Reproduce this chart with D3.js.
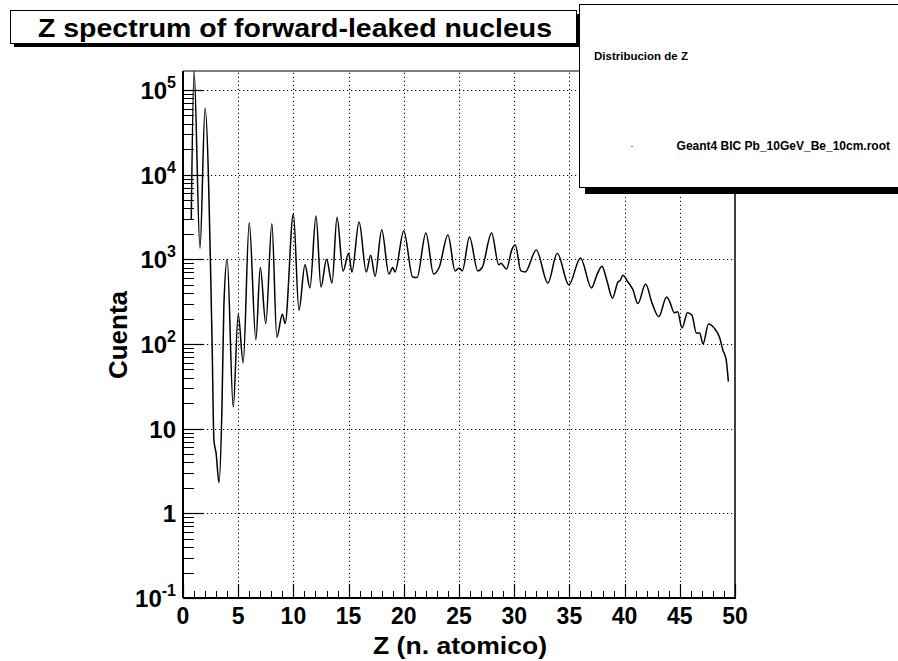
<!DOCTYPE html>
<html>
<head>
<meta charset="utf-8">
<script src="https://cdn.jsdelivr.net/npm/d3@7"></script>
<style>
  html, body { margin: 0; padding: 0; background: #fff; }
  svg { display: block; }
  text { font-family: "Liberation Sans", Arial, sans-serif; font-weight: bold; fill: #000; }
</style>
</head>
<body>
<script>
// ---- data ----
const zValues = [0.75, 1.0, 1.54, 2.0, 2.63, 2.8, 3.0, 3.26, 3.53, 3.7, 4.0, 4.55, 5.0, 5.45, 6.0, 6.6, 7.0, 7.5, 8.05, 8.5, 9.0, 9.25,
  10.0, 10.5, 11.05, 11.5, 12.05, 12.5, 13.0, 13.5, 13.95, 14.5, 15.0, 15.3, 15.95, 16.6, 17.0, 17.4, 18.0, 18.65, 19.0, 19.2,
  20.0, 20.8, 21.2, 22.0, 22.7, 23.2, 24.0, 24.65, 25.0, 25.3, 25.95, 26.7, 27.1, 27.95, 28.6, 28.8, 29.3, 29.8, 30.1, 30.6, 31.0,
  32.0, 33.05, 33.9, 34.95, 36.0, 37.0, 37.5, 37.95, 38.4, 38.9, 39.4, 39.6, 39.85, 40.3, 40.75, 41.2, 41.9, 42.5, 43.1, 43.8,
  44.1, 44.5, 44.8, 45.2, 45.7, 46.1, 46.5, 46.8, 47.1, 47.6, 48.1, 48.6, 48.9, 49.2, 49.4];
const counts = [3000, 168000, 1350, 61000, 112, 7.4, 5.1, 2.3, 18, 275, 1000, 18, 225, 60, 2700, 112, 800, 174, 2630, 120, 225, 175,
  3450, 250, 860, 460, 3250, 470, 1000, 525, 3150, 725, 1180, 710, 2760, 710, 1120, 630, 2240, 670, 800, 710,
  2160, 620, 610, 2050, 670, 800, 1940, 730, 790, 730, 1830, 730, 800, 2050, 860, 900, 770, 1320, 1480, 730, 710,
  1290, 525, 1180, 500, 1040, 460, 660, 830, 560, 348, 540, 560, 650, 540, 440, 300, 510, 300, 210, 360,
  313, 234, 240, 155, 234, 218, 135, 135, 100, 172, 155, 120, 85, 65, 36];
const xTickValues = [0, 5, 10, 15, 20, 25, 30, 35, 40, 45, 50];
const yTickValues = [0.1, 1, 10, 100, 1000, 10000, 100000];
const yTickBase = ["10", "1", "10", "10", "10", "10", "10"];
const yTickExp  = ["-1", "", "", "2", "3", "4", "5"];
const titleText = "Z spectrum of forward-leaked nucleus";
const xTitle = "Z (n. atomico)";
const yTitle = "Cuenta";
const statsTitle = "Distribucion de Z";
const legendEntry = "Geant4 BIC Pb_10GeV_Be_10cm.root";

// ---- layout ----
const W = 898, H = 661;
const fL = 183, fR = 735, fT = 71, fB = 598;

const svg = d3.select("body").append("svg").attr("width", W).attr("height", H);

const x = d3.scaleLinear().domain([0, 50]).range([fL, fR]);
const y = d3.scaleLog().domain([0.1, 167600]).range([fB, fT]);

// grid
const grid = svg.append("g").attr("stroke", "#000").attr("stroke-width", 1).attr("stroke-dasharray", "1.2,2.8");
grid.selectAll("line.gx").data(xTickValues.slice(1, -1)).join("line")
  .attr("x1", d => Math.round(x(d)) + 0.5).attr("x2", d => Math.round(x(d)) + 0.5)
  .attr("y1", fB).attr("y2", fT);
grid.selectAll("line.gy").data(yTickValues.slice(1)).join("line")
  .attr("x1", fL).attr("x2", fR)
  .attr("y1", d => Math.round(y(d)) + 0.5).attr("y2", d => Math.round(y(d)) + 0.5);

// minor y ticks
const yMinor = [];
for (let e = -1; e <= 5; e++) for (let m = 2; m <= 9; m++) { const v = m * Math.pow(10, e); if (v < 167600) yMinor.push(v); }
svg.append("g").attr("stroke", "#000").attr("stroke-width", 1)
  .selectAll("line").data(yMinor).join("line")
  .attr("x1", fL).attr("x2", fL + 11)
  .attr("y1", d => Math.round(y(d)) + 0.5).attr("y2", d => Math.round(y(d)) + 0.5);
svg.append("g").attr("stroke", "#000").attr("stroke-width", 1.2)
  .selectAll("line").data(yTickValues).join("line")
  .attr("x1", fL).attr("x2", fL + 21)
  .attr("y1", d => Math.round(y(d)) + 0.5).attr("y2", d => Math.round(y(d)) + 0.5);

// x ticks
const xMinor = d3.range(0, 51).filter(v => v % 5 !== 0);
svg.append("g").attr("stroke", "#000").attr("stroke-width", 1)
  .selectAll("line").data(xMinor).join("line")
  .attr("x1", d => Math.round(x(d)) + 0.5).attr("x2", d => Math.round(x(d)) + 0.5)
  .attr("y1", fB).attr("y2", fB - 7);
svg.append("g").attr("stroke", "#000").attr("stroke-width", 1.2)
  .selectAll("line").data(xTickValues).join("line")
  .attr("x1", d => Math.round(x(d)) + 0.5).attr("x2", d => Math.round(x(d)) + 0.5)
  .attr("y1", fB).attr("y2", fB - 14);

// data curve
svg.append("clipPath").attr("id", "clip").append("rect")
  .attr("x", fL).attr("y", fT).attr("width", fR - fL).attr("height", fB - fT);
const pts = zValues.map((z, i) => ({ z, c: counts[i] }));
svg.append("path").datum(pts)
  .attr("clip-path", "url(#clip)")
  .attr("fill", "none").attr("stroke", "#000").attr("stroke-width", 1.5)
  .attr("d", d3.line().x(d => x(d.z)).y(d => y(d.c)).curve(d3.curveMonotoneX));

// frame
svg.append("line").attr("x1", fL).attr("x2", fL).attr("y1", fT).attr("y2", fB).attr("stroke", "#000").attr("stroke-width", 2);
svg.append("line").attr("x1", fL).attr("x2", fR + 1).attr("y1", fB).attr("y2", fB).attr("stroke", "#000").attr("stroke-width", 2);
svg.append("line").attr("x1", fR).attr("x2", fR).attr("y1", fT).attr("y2", fB).attr("stroke", "#000").attr("stroke-width", 1.5);
svg.append("line").attr("x1", fL).attr("x2", fR).attr("y1", fT).attr("y2", fT).attr("stroke", "#000").attr("stroke-width", 1);

// x tick labels
svg.append("g").selectAll("text").data(xTickValues).join("text")
  .attr("x", d => x(d)).attr("y", 624)
  .attr("text-anchor", "middle").attr("font-size", 23)
  .text(d => d);

// y tick labels
const yl = svg.append("g");
yTickValues.forEach((v, i) => {
  const t = yl.append("text").attr("x", 176).attr("y", y(v) + 9).attr("text-anchor", "end").attr("font-size", 24);
  t.append("tspan").text(yTickBase[i]);
  if (yTickExp[i]) t.append("tspan").attr("font-size", 16).attr("dy", -11).text(yTickExp[i]);
});

// axis titles
svg.append("text").attr("x", 460).attr("y", 654).attr("text-anchor", "middle").attr("font-size", 24)
  .attr("textLength", 174).attr("lengthAdjust", "spacingAndGlyphs").text(xTitle);
svg.append("text").attr("transform", "translate(127,335) rotate(-90)").attr("text-anchor", "middle").attr("font-size", 26).text(yTitle);

// title box
svg.append("rect").attr("x", 14).attr("y", 14).attr("width", 566).attr("height", 33).attr("fill", "#000");
svg.append("rect").attr("x", 10.5).attr("y", 10.5).attr("width", 566).attr("height", 33).attr("fill", "#fff").attr("stroke", "#000").attr("stroke-width", 1);
svg.append("text").attr("x", 295).attr("y", 37).attr("text-anchor", "middle").attr("font-size", 26)
  .attr("textLength", 514).attr("lengthAdjust", "spacingAndGlyphs").text(titleText);

// stats / legend box
svg.append("rect").attr("x", 585).attr("y", 10).attr("width", 330).attr("height", 184).attr("fill", "#000");
svg.append("rect").attr("x", 579.5).attr("y", 4.5).attr("width", 330).attr("height", 183).attr("fill", "#fff").attr("stroke", "#000").attr("stroke-width", 1);
svg.append("text").attr("x", 594).attr("y", 60).attr("font-size", 11.5).text(statsTitle);
svg.append("line").attr("x1", 631).attr("x2", 633).attr("y1", 146.5).attr("y2", 146.5).attr("stroke", "#888").attr("stroke-width", 1);
svg.append("text").attr("x", 890).attr("y", 150).attr("text-anchor", "end").attr("font-size", 12).text(legendEntry);
</script>
</body>
</html>
